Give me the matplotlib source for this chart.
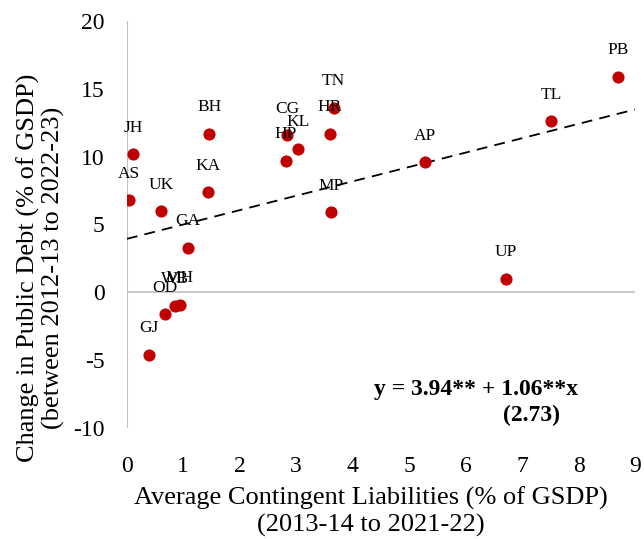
import matplotlib.pyplot as plt

states = ["PB", "TL", "AP", "UP", "TN", "HR", "MP", "CG", "HP", "KL",
          "JH", "AS", "UK", "BH", "KA", "GA", "MH", "WB", "OD", "GJ"]
cont_liab = [8.70, 7.51, 5.28, 6.71, 3.66, 3.59, 3.62, 2.84, 2.81, 3.04,
             0.11, 0.04, 0.60, 1.46, 1.44, 1.08, 0.94, 0.85, 0.67, 0.39]
debt_change = [15.9, 12.6, 9.6, 1.0, 13.6, 11.7, 5.9, 11.6, 9.7, 10.6,
               10.2, 6.8, 6.0, 11.7, 7.4, 3.3, -0.9, -1.0, -1.6, -4.6]
intercept = 3.94
slope = 1.06

plt.rcParams['font.family'] = ['Liberation Serif', 'DejaVu Serif']
plt.rcParams['axes.unicode_minus'] = False

fig = plt.figure(figsize=(6.44, 5.39), dpi=100)
ax = fig.add_axes([0.197, 0.206, 0.789, 0.755])

ax.axhline(0, color="#bfbfbf", lw=1.2, zorder=1)
ax.axvline(0, color="#bfbfbf", lw=1.5, zorder=1)

ax.scatter(cont_liab, debt_change, s=60, color="#c00000", zorder=3)
for s, x, y in zip(states, cont_liab, debt_change):
    ax.annotate(s, (x, y), xytext=(0, 19), textcoords="offset points",
                ha="center", va="center", fontsize=12.5)

xs = [0, 9]
ax.plot(xs, [intercept + slope * v for v in xs], ls=(0, (6, 4)),
        color="black", lw=1.3, zorder=2)

ax.text(6.18, -7.2, "y = 3.94** + 1.06**x", ha="center", va="center",
        fontsize=17, fontweight="bold")
ax.text(7.16, -9.05, "(2.73)", ha="center", va="center",
        fontsize=17, fontweight="bold")

ax.set_xlim(0, 9)
ax.set_ylim(-10, 20)
ax.set_xticks(range(0, 10))
ax.set_yticks(range(-10, 21, 5))
ax.tick_params(length=0, labelsize=17)
ax.tick_params(axis="x", pad=20)
ax.tick_params(axis="y", pad=16)
for sp in ax.spines.values():
    sp.set_visible(False)

ax.set_xlabel("Average Contingent Liabilities (% of GSDP)\n(2013-14 to 2021-22)",
              fontsize=19, linespacing=1.2, labelpad=7, x=0.48)
ax.set_ylabel("Change in Public Debt (% of GSDP)\n(between 2012-13 to 2022-23)",
              fontsize=19, linespacing=1.1, labelpad=6, y=0.394)

fig.savefig("out.png", dpi=100)
